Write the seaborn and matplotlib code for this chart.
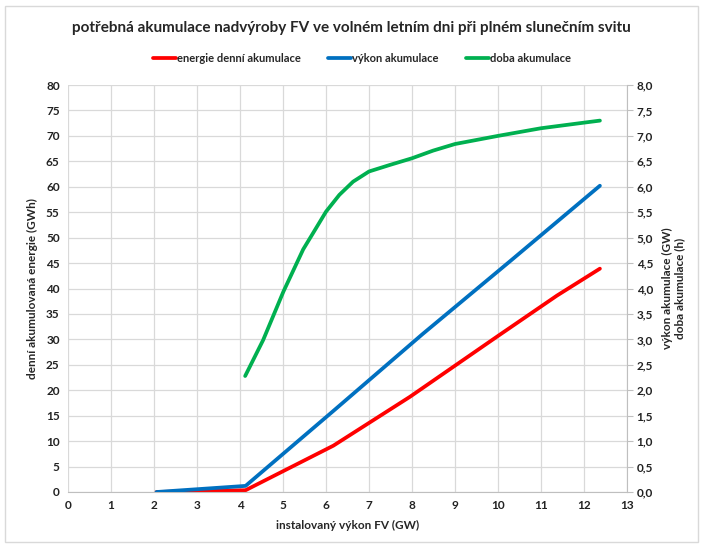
import pandas as pd
import seaborn as sns
import matplotlib.pyplot as plt
from matplotlib.patches import Rectangle
from matplotlib.ticker import FuncFormatter, MultipleLocator

# values
energie_x = [2.06, 4.13, 6.17, 7.95, 8.96, 9.97, 11.37, 12.37]
energie_gwh = [0.0, 0.35, 9.1, 18.7, 24.6, 30.5, 38.6, 43.9]

vykon_x = [2.06, 4.13, 6.18, 8.24, 10.30, 12.37]
vykon_gw = [0.0, 0.12, 1.6, 3.1, 4.55, 6.02]

doba_x = [4.12, 4.54, 5.01, 5.47, 5.70, 6.00, 6.31, 6.63, 7.00, 7.49, 8.00,
          8.49, 9.00, 10.0, 11.0, 12.0, 12.37]
doba_h = [2.28, 2.99, 3.94, 4.77, 5.09, 5.51, 5.84, 6.10, 6.30, 6.43, 6.56,
          6.71, 6.84, 7.00, 7.15, 7.26, 7.30]

title = "potřebná akumulace nadvýroby FV ve volném letním dni při plném slunečním svitu"

sns.set_style("white")
plt.rcParams["font.family"] = ["Lato", "DejaVu Sans"]
plt.rcParams["font.weight"] = "bold"

fig = plt.figure(figsize=(7.03, 5.46), dpi=100)
ax = fig.add_axes([68 / 703, 1 - 492 / 546, (627 - 68) / 703, (492 - 85) / 546])
ax2 = ax.twinx()

df_e = pd.DataFrame({"x": energie_x, "y": energie_gwh})
df_v = pd.DataFrame({"x": vykon_x, "y": vykon_gw})
df_d = pd.DataFrame({"x": doba_x, "y": doba_h})

sns.lineplot(data=df_e, x="x", y="y", ax=ax, color="#FF0000", linewidth=2.7,
             label="energie denní akumulace", legend=False, sort=False)
sns.lineplot(data=df_v, x="x", y="y", ax=ax2, color="#0070C0", linewidth=2.7,
             label="výkon akumulace", legend=False, sort=False)
sns.lineplot(data=df_d, x="x", y="y", ax=ax2, color="#00B050", linewidth=2.7,
             label="doba akumulace", legend=False, sort=False)
for ln in ax.get_lines() + ax2.get_lines():
    ln.set_solid_joinstyle("round")
    ln.set_solid_capstyle("round")

ax.set_xlim(0, 13)
ax.set_ylim(0, 80)
ax2.set_ylim(0, 8)
ax.xaxis.set_major_locator(MultipleLocator(1))
ax.yaxis.set_major_locator(MultipleLocator(5))
ax2.yaxis.set_major_locator(MultipleLocator(0.5))
ax2.yaxis.set_major_formatter(FuncFormatter(lambda v, p: f"{v:.1f}".replace(".", ",")))

ax.grid(True, color="#d9d9d9", linewidth=0.9)
ax.set_axisbelow(True)
for sp in ["top", "left"]:
    ax.spines[sp].set_visible(False)
    ax2.spines[sp].set_visible(False)
ax.spines["right"].set_visible(False)
ax.spines["bottom"].set_color("#bfbfbf")
ax2.spines["bottom"].set_visible(False)
ax2.spines["right"].set_color("#bfbfbf")

ax.tick_params(axis="both", length=0, labelsize=8.5, pad=6, colors="#222222")
ax2.tick_params(axis="y", length=4, color="#bfbfbf", labelsize=8.5, pad=3, labelcolor="#222222")
for lab in ax.get_xticklabels() + ax.get_yticklabels() + ax2.get_yticklabels():
    lab.set_fontweight("bold")

ax.set_xlabel("instalovaný výkon FV (GW)", fontsize=8.5, fontweight="bold", labelpad=6)
ax.set_ylabel("denní akumulovaná energie (GWh)", fontsize=8.5, fontweight="bold", labelpad=6)
ax2.set_ylabel("výkon akumulace (GW)\ndoba akumulace (h)", fontsize=8.5,
               fontweight="bold", labelpad=6)

fig.suptitle(title, y=1 - 28 / 546, fontsize=11, fontweight="bold", va="center")

handles = ax.get_lines()[:1] + ax2.get_lines()[:2]
fig.legend(handles, [h.get_label() for h in handles], loc="center",
           bbox_to_anchor=(0.515, 1 - 58 / 546), ncol=3, frameon=False,
           handlelength=2.1, handletextpad=0.1, columnspacing=2.4,
           prop={"weight": "bold", "size": 8})

fig.patches.append(Rectangle((5 / 703, 4 / 546), 1 - 10 / 703, 1 - 10 / 546,
                             transform=fig.transFigure, fill=False,
                             edgecolor="#d9d9d9", linewidth=1))

fig.savefig("out.png", dpi=100)
